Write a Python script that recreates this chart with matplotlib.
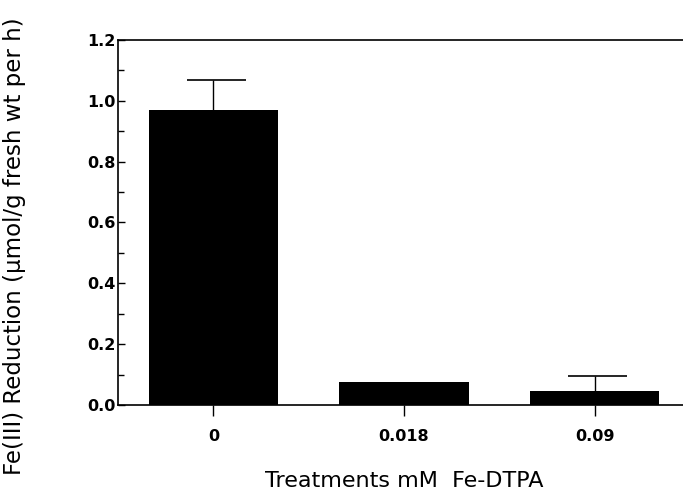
import numpy as np
import matplotlib.pyplot as plt
from matplotlib.ticker import MultipleLocator

# Fe(III) reduction per treatment
treatments = ["0", "0.018", "0.09"]
reduction = [0.97, 0.075, 0.047]
err_upper = [0.10, 0.0, 0.048]

plt.rcParams['font.family'] = ['DejaVu Sans']

fig = plt.figure(figsize=(6.83, 4.93), dpi=100)
ax = fig.add_axes([0.1728, 0.1785, 0.8272 + 0.01, 0.7404])

x = np.arange(len(treatments))
ax.bar(x, reduction, width=0.68, color='black', zorder=2)

# upper error bars only: stem plus cap
top = np.array(reduction) + np.array(err_upper)
has_err = np.array(err_upper) > 0
ax.vlines(x[has_err], np.array(reduction)[has_err], top[has_err], color='black', lw=1.0, zorder=1)
ax.hlines(top[has_err], x[has_err] - 0.14, x[has_err] + 0.17, color='black', lw=1.2, zorder=1)

ax.set_xlim(-0.5, 2.5)
ax.set_ylim(0, 1.2)
ax.set_xticks(x)
ax.set_xticklabels(treatments, fontsize=11.5, fontweight='bold')
yt = np.arange(0, 1.21, 0.2)
ax.set_yticks(yt)
ax.set_yticklabels([f"{v:.1f}" for v in yt], fontsize=11.5, fontweight='bold')
ax.yaxis.set_minor_locator(MultipleLocator(0.1))
ax.tick_params(axis='y', which='major', direction='in', length=5, width=1, pad=2)
ax.tick_params(axis='y', which='minor', direction='in', length=4, width=1)
ax.tick_params(axis='x', which='major', direction='out', length=8, width=1, pad=9)
ax.spines['right'].set_visible(False)
for s in ['left', 'bottom', 'top']:
    ax.spines[s].set_linewidth(1.2)

ax.set_xlabel("Treatments mM  Fe-DTPA", fontsize=16, labelpad=20)
fig.text(0.021, 0.5, "Fe(III) Reduction (\u00b5mol/g fresh wt per h)", rotation=90,
         fontsize=16.5, ha='center', va='center')

fig.savefig("out.png", dpi=100)
